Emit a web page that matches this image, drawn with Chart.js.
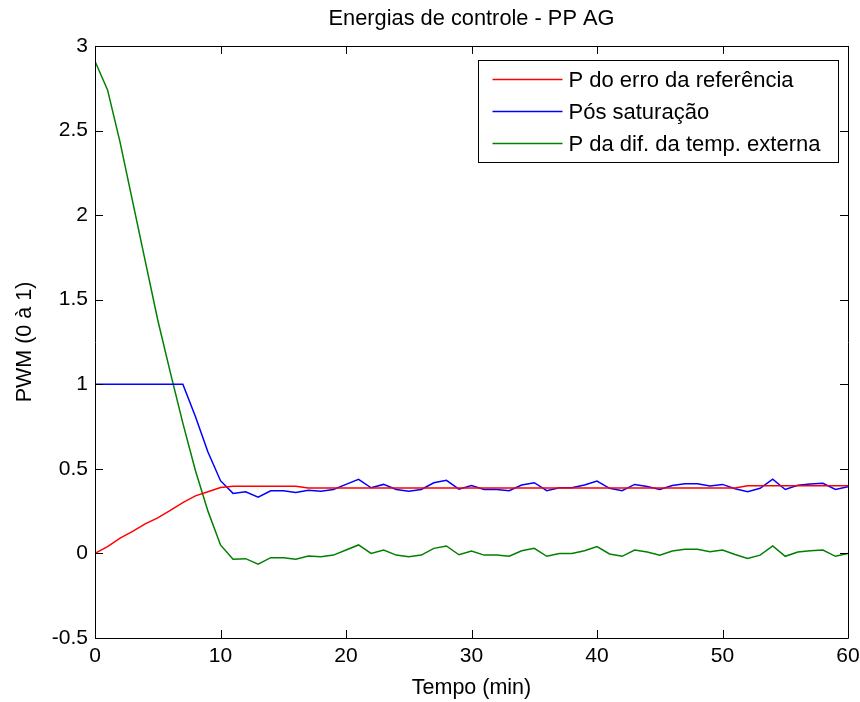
<!DOCTYPE html>
<html>
<head>
<meta charset="utf-8">
<script src="https://cdn.jsdelivr.net/npm/chart.js@4/dist/chart.umd.min.js"></script>
<style>
  html, body { margin: 0; padding: 0; background: #ffffff; }
  #wrap { width: 860px; height: 702px; }
</style>
</head>
<body>
<div id="wrap"><canvas id="c" width="860" height="702"></canvas></div>
<script>
// Time axis (minutes) and the three control signals sampled once per minute
const tempoMin = [0,1,2,3,4,5,6,7,8,9,10,11,12,13,14,15,16,17,18,19,20,
  21,22,23,24,25,26,27,28,29,30,31,32,33,34,35,36,37,38,39,40,
  41,42,43,44,45,46,47,48,49,50,51,52,53,54,55,56,57,58,59,60];

const pErroReferencia = [0,0.04,0.09,0.13,0.175,0.21,0.255,0.30,0.34,0.365,0.39,
  0.397,0.397,0.397,0.397,0.397,0.397,
  0.387,0.387,0.387,0.387,0.387,0.387,0.387,0.387,0.387,0.387,
  0.387,0.387,0.387,0.387,0.387,0.387,0.387,0.387,0.387,0.387,
  0.387,0.387,0.387,0.387,0.387,0.387,0.387,0.387,0.387,0.387,
  0.387,0.387,0.387,0.387,0.387,
  0.40,0.40,0.40,0.40,0.40,0.40,0.40,0.40,0.40];

const posSaturacao = [1,1,1,1,1,1,1,1,0.81,0.60,0.43,
  0.355,0.364,0.332,0.37,0.37,0.36,0.373,0.368,0.378,0.408,
  0.438,0.388,0.408,0.378,0.368,0.378,0.418,0.432,0.38,0.402,
  0.378,0.378,0.371,0.404,0.418,0.371,0.388,0.388,0.404,0.428,
  0.385,0.371,0.408,0.396,0.378,0.402,0.412,0.412,0.398,0.408,
  0.382,0.365,0.385,0.439,0.378,0.403,0.411,0.415,0.378,0.395];

const pDifTempExterna = [2.91,2.74,2.43,2.08,1.73,1.38,1.07,0.77,0.49,0.25,0.05,
  -0.035,-0.031,-0.063,-0.025,-0.025,-0.035,-0.015,-0.02,-0.01,0.02,
  0.05,0.0,0.02,-0.01,-0.02,-0.01,0.03,0.044,-0.008,0.014,
  -0.01,-0.01,-0.017,0.016,0.03,-0.017,0.0,0.0,0.016,0.04,
  -0.003,-0.017,0.02,0.008,-0.01,0.014,0.024,0.024,0.01,0.02,
  -0.006,-0.03,-0.01,0.044,-0.017,0.008,0.016,0.02,-0.017,0.0];

const seriesNames = ['P do erro da referência', 'Pós saturação', 'P da dif. da temp. externa'];
const seriesColors = ['#ff0000', '#0000ff', '#008000'];

const xTicks = [0, 10, 20, 30, 40, 50, 60];
const yTicks = [-0.5, 0, 0.5, 1, 1.5, 2, 2.5, 3];

const FONT = "'Liberation Sans', Arial, sans-serif";

function toPoints(values) {
  return tempoMin.map((t, i) => ({ x: t, y: values[i] }));
}

// Box around the axes with inward tick marks on all four sides
const axesBox = {
  id: 'axesBox',
  afterDatasetsDraw(chart) {
    const { ctx, chartArea: a, scales } = chart;
    const len = 8;
    ctx.save();
    ctx.strokeStyle = '#000000';
    ctx.lineWidth = 1;
    ctx.beginPath();
    ctx.rect(Math.round(a.left) + 0.5, Math.round(a.top) + 0.5,
             Math.round(a.right - a.left), Math.round(a.bottom - a.top));
    xTicks.forEach(v => {
      const px = Math.round(scales.x.getPixelForValue(v)) + 0.5;
      ctx.moveTo(px, a.bottom); ctx.lineTo(px, a.bottom - len);
      ctx.moveTo(px, a.top); ctx.lineTo(px, a.top + len);
    });
    yTicks.forEach(v => {
      const py = Math.round(scales.y.getPixelForValue(v)) + 0.5;
      ctx.moveTo(a.left, py); ctx.lineTo(a.left + len, py);
      ctx.moveTo(a.right, py); ctx.lineTo(a.right - len, py);
    });
    ctx.stroke();
    ctx.restore();
  }
};

// Legend box placed inside the upper-right corner of the axes
const boxedLegend = {
  id: 'boxedLegend',
  afterDraw(chart) {
    const { ctx, chartArea: a } = chart;
    const boxW = 360, boxH = 102;
    const x0 = Math.round(a.right - 10 - boxW) + 0.5;
    const y0 = Math.round(a.top + 14) + 0.5;
    ctx.save();
    ctx.fillStyle = '#ffffff';
    ctx.fillRect(x0, y0, boxW, boxH);
    ctx.strokeStyle = '#000000';
    ctx.lineWidth = 1;
    ctx.strokeRect(x0, y0, boxW, boxH);
    ctx.font = '22px ' + FONT;
    ctx.textBaseline = 'middle';
    ctx.textAlign = 'left';
    chart.data.datasets.forEach((ds, i) => {
      const rowY = y0 + 19 + i * 32;
      ctx.strokeStyle = ds.borderColor;
      ctx.lineWidth = 1.5;
      ctx.beginPath();
      ctx.moveTo(x0 + 14, rowY);
      ctx.lineTo(x0 + 84, rowY);
      ctx.stroke();
      ctx.fillStyle = '#000000';
      ctx.fillText(ds.label, x0 + 90, rowY + 1);
    });
    ctx.restore();
  }
};

new Chart(document.getElementById('c'), {
  type: 'line',
  data: {
    datasets: [pErroReferencia, posSaturacao, pDifTempExterna].map((vals, i) => ({
      label: seriesNames[i],
      data: toPoints(vals),
      borderColor: seriesColors[i],
      backgroundColor: seriesColors[i],
      borderWidth: 1.5,
      pointRadius: 0,
      tension: 0,
      fill: false
    }))
  },
  options: {
    responsive: false,
    animation: false,
    devicePixelRatio: 1,
    layout: { padding: { left: 0, right: 12, top: 0, bottom: 0 } },
    plugins: {
      legend: { display: false },
      tooltip: { enabled: false },
      title: {
        display: true,
        fullSize: false,
        text: 'Energias de controle - PP AG',
        color: '#000000',
        font: { family: FONT, size: 21.8, weight: 'normal' },
        padding: { top: 5.5, bottom: 14.3 }
      }
    },
    scales: {
      x: {
        type: 'linear',
        min: 0, max: 60,
        afterBuildTicks: s => { s.ticks = xTicks.map(v => ({ value: v })); },
        afterFit: s => { s.height = 64; s.paddingLeft = 0; s.paddingRight = 0; },
        grid: { display: false, drawTicks: false },
        border: { display: false },
        ticks: {
          color: '#000000',
          font: { family: FONT, size: 21 },
          padding: 6,
          maxRotation: 0,
          callback: v => String(v)
        },
        title: {
          display: true,
          text: 'Tempo (min)',
          color: '#000000',
          font: { family: FONT, size: 21.5 },
          padding: { top: 0, bottom: 1.5 }
        }
      },
      y: {
        type: 'linear',
        min: -0.5, max: 3,
        afterBuildTicks: s => { s.ticks = yTicks.map(v => ({ value: v })); },
        afterFit: s => { s.width = 95; s.paddingTop = 0; s.paddingBottom = 0; },
        grid: { display: false, drawTicks: false },
        border: { display: false },
        ticks: {
          color: '#000000',
          font: { family: FONT, size: 21 },
          padding: 7,
          callback: v => String(v)
        },
        title: {
          display: true,
          text: 'PWM (0 à 1)',
          color: '#000000',
          font: { family: FONT, size: 21.5 },
          padding: { top: 12, bottom: 0 }
        }
      }
    }
  },
  plugins: [axesBox, boxedLegend]
});
</script>
</body>
</html>
